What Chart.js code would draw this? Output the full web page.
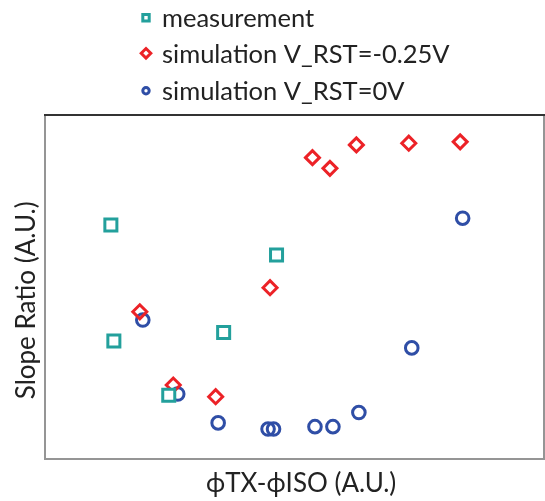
<!DOCTYPE html>
<html>
<head>
<meta charset="utf-8">
<script src="https://cdn.jsdelivr.net/npm/chart.js@4/dist/chart.umd.min.js"></script>
<style>
  html, body { margin: 0; padding: 0; background: #ffffff; }
  #wrap { position: relative; width: 545px; height: 501px; }
</style>
</head>
<body>
<div id="wrap"><canvas id="c" width="545" height="501"></canvas></div>
<script>
// ---- data (arbitrary units 0..100) ----
const seriesNames = ["measurement", "simulation V_RST=-0.25V", "simulation V_RST=0V"];

const measX = [13.2, 13.8, 24.8, 35.8, 46.4];
const measY = [68.0, 34.3, 18.5, 36.8, 59.3];

const simNegX = [19.0, 25.7, 34.2, 45.1, 53.6, 57.1, 62.4, 72.9, 83.2];
const simNegY = [42.8, 21.5, 18.1, 49.8, 87.6, 84.5, 91.3, 91.8, 92.2];

const simZeroX = [19.6, 26.6, 34.7, 44.7, 45.8, 54.1, 57.7, 62.9, 73.5, 83.7];
const simZeroY = [40.4, 18.9, 10.5, 8.7, 8.7, 9.4, 9.4, 13.5, 32.3, 70.0];

const xTitle = "  \u03D5TX-\u03D5ISO (A.U.)";
const yTitle = "Slope Ratio (A.U.)    ";

const toPts = (xs, ys) => xs.map((x, i) => ({ x: x, y: ys[i] }));

const TEAL = "#23a09c";
const RED = "#ec2227";
const BLUE = "#2f4ea6";
const FONT = "Lato, 'Open Sans', sans-serif";

// legend: one item per row, top-left
const topLegend = {
  id: "topLegend",
  afterDraw(chart) {
    const ctx = chart.ctx;
    ctx.save();
    const x0 = 146, textX = 162, rows = [17.7, 53.3, 90.7];
    chart.data.datasets.forEach((ds, i) => {
      const y = rows[i];
      ctx.strokeStyle = ds.borderColor;
      ctx.lineWidth = 3;
      ctx.beginPath();
      if (ds.pointStyle === "rect") {
        ctx.rect(x0 - 3.2, y - 3.2, 6.4, 6.4);
      } else if (ds.pointStyle === "rectRot") {
        ctx.moveTo(x0 - 4.8, y); ctx.lineTo(x0, y - 4.8);
        ctx.lineTo(x0 + 4.8, y); ctx.lineTo(x0, y + 4.8); ctx.closePath();
      } else {
        ctx.arc(x0, y, 3.2, 0, Math.PI * 2);
      }
      ctx.stroke();
      ctx.fillStyle = "#222222";
      ctx.font = "25.5px " + FONT;
      ctx.textBaseline = "middle";
      ctx.textAlign = "left";
      ctx.fillText(ds.label, textX, y + 1);
    });
    ctx.restore();
  }
};

// box around the plot area
const frame = {
  id: "frame",
  afterDraw(chart) {
    const a = chart.chartArea;
    const ctx = chart.ctx;
    ctx.save();
    ctx.lineWidth = 2;
    ctx.strokeStyle = "#959595";
    ctx.beginPath();
    ctx.moveTo(a.left, a.top); ctx.lineTo(a.left, a.bottom);
    ctx.lineTo(a.right, a.bottom); ctx.lineTo(a.right, a.top);
    ctx.stroke();
    ctx.strokeStyle = "#333333";
    ctx.beginPath();
    ctx.moveTo(a.left - 1, a.top); ctx.lineTo(a.right + 1, a.top);
    ctx.stroke();
    ctx.restore();
  }
};

new Chart(document.getElementById("c"), {
  type: "scatter",
  data: {
    datasets: [
      { label: seriesNames[0], data: toPts(measX, measY), pointStyle: "rect",
        pointRadius: 8.5, pointHoverRadius: 8.5, borderColor: TEAL, backgroundColor: "#ffffff", pointBorderWidth: 3 },
      { label: seriesNames[1], data: toPts(simNegX, simNegY), pointStyle: "rectRot",
        pointRadius: 7, pointHoverRadius: 7, borderColor: RED, backgroundColor: "rgba(255,255,255,0)", pointBorderWidth: 3 },
      { label: seriesNames[2], data: toPts(simZeroX, simZeroY), pointStyle: "circle",
        pointRadius: 6.3, pointHoverRadius: 6.3, borderColor: BLUE, backgroundColor: "rgba(255,255,255,0)", pointBorderWidth: 3 }
    ]
  },
  options: {
    responsive: false,
    animation: false,
    devicePixelRatio: 1,
    layout: { autoPadding: false, padding: { left: 0, right: 1, top: 115, bottom: 0 } },
    plugins: {
      legend: { display: false },
      tooltip: { enabled: false }
    },
    scales: {
      x: {
        type: "linear", min: 0, max: 100,
        grid: { display: false, drawTicks: false },
        border: { display: false },
        ticks: { display: false },
        title: { display: true, text: xTitle, color: "#222222",
                 font: { family: FONT, size: 26 }, padding: { top: 0, bottom: 2 } },
        afterFit(axis) { axis.height = 42; }
      },
      y: {
        type: "linear", min: 0, max: 100,
        grid: { display: false, drawTicks: false },
        border: { display: false },
        ticks: { display: false },
        title: { display: true, text: yTitle, color: "#222222",
                 font: { family: FONT, size: 26 }, padding: { top: 11, bottom: 0 } },
        afterFit(axis) { axis.width = 45; }
      }
    }
  },
  plugins: [topLegend, frame]
});
</script>
</body>
</html>
